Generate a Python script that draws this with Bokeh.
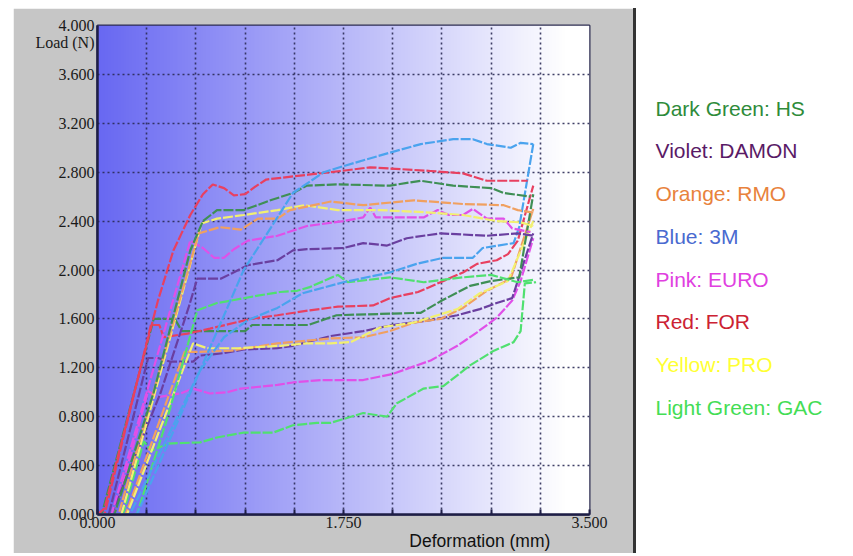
import numpy as np
from bokeh.plotting import figure
from bokeh.models import Range1d, FixedTicker, LinearAxis, Spacer, ColumnDataSource
from bokeh.layouts import row, column
from bokeh.core.properties import value
from bokeh.embed import file_html
from bokeh.resources import INLINE

# ---------------- data (deformation mm, load N) ----------------
hs1_x = [0, 0.12, 0.4, 0.66, 0.75, 0.85, 1.04, 1.23, 1.39, 1.49, 1.71, 2.08, 2.3, 2.53, 2.8, 2.89, 3.08]
hs1_y = [0, 0, 1.0, 2.16, 2.4, 2.49, 2.49, 2.57, 2.63, 2.69, 2.7, 2.69, 2.73, 2.69, 2.67, 2.63, 2.6]
hs2_x = [0, 0.03, 0.4, 0.55, 0.6, 1.05, 1.1, 1.5, 1.7, 2.3, 2.45, 2.65, 2.8, 3.0, 3.1]
hs2_y = [0, 0, 1.6, 1.6, 1.5, 1.5, 1.55, 1.55, 1.63, 1.65, 1.75, 1.87, 1.91, 1.94, 2.62]

damon1_x = [0, 0.1, 0.45, 0.65, 0.71, 0.88, 0.95, 1.07, 1.28, 1.39, 1.49, 1.75, 1.89, 2.06, 2.2, 2.44, 2.77, 2.99, 3.1]
damon1_y = [0, 0, 1.0, 1.7, 1.93, 1.93, 1.97, 2.04, 2.08, 2.16, 2.17, 2.18, 2.22, 2.2, 2.26, 2.3, 2.28, 2.3, 2.28]
damon2_x = [0, 0.08, 0.36, 0.43, 0.52, 0.68, 0.73, 0.9, 1.04, 1.28, 1.39, 1.66, 1.89, 2.1, 2.37, 2.56, 2.72, 2.84, 2.95, 3.1]
damon2_y = [0, 0, 1.28, 1.28, 1.25, 1.25, 1.3, 1.32, 1.35, 1.36, 1.38, 1.46, 1.5, 1.55, 1.59, 1.63, 1.68, 1.73, 1.77, 2.3]

rmo1_x = [0, 0.15, 0.72, 0.87, 1.02, 1.14, 1.28, 1.37, 1.66, 1.89, 2.25, 2.6, 2.89, 2.99, 3.1]
rmo1_y = [0, 0, 2.3, 2.35, 2.33, 2.42, 2.42, 2.49, 2.56, 2.53, 2.57, 2.54, 2.53, 2.49, 2.47]
rmo2_x = [0, 0.2, 0.62, 0.7, 0.95, 1.28, 1.66, 1.89, 2.08, 2.25, 2.44, 2.6, 2.77, 2.94, 3.1]
rmo2_y = [0, 0, 1.33, 1.33, 1.34, 1.4, 1.44, 1.45, 1.5, 1.57, 1.6, 1.69, 1.83, 1.93, 2.5]

m3_1_x = [0, 0.28, 0.7, 1.04, 1.28, 1.39, 1.61, 1.75, 2.08, 2.3, 2.53, 2.67, 2.77, 2.94, 3.01, 3.1]
m3_1_y = [0, 0, 1.1, 2.0, 2.43, 2.63, 2.8, 2.85, 2.96, 3.03, 3.07, 3.07, 3.03, 3.0, 3.04, 3.03]
m3_2_x = [0, 0.23, 0.73, 0.9, 1.07, 1.28, 1.46, 1.75, 2.08, 2.27, 2.46, 2.67, 2.74, 2.96, 3.0, 3.1]
m3_2_y = [0, 0, 1.18, 1.45, 1.59, 1.69, 1.81, 1.9, 1.98, 2.05, 2.1, 2.1, 2.18, 2.22, 2.35, 3.03]

euro1_x = [0, 0.1, 0.66, 0.75, 0.83, 0.9, 0.97, 1.07, 1.28, 1.49, 1.75, 1.89, 1.94, 1.98, 2.32, 2.42, 2.5, 2.6, 2.67, 2.77, 2.89, 2.95, 3.08]
euro1_y = [0, 0, 2.24, 2.18, 2.1, 2.1, 2.17, 2.24, 2.28, 2.36, 2.4, 2.43, 2.51, 2.43, 2.43, 2.49, 2.45, 2.45, 2.5, 2.42, 2.42, 2.34, 2.31]
euro2_x = [0, 0.12, 0.36, 0.43, 0.59, 0.68, 0.8, 0.92, 1.02, 1.28, 1.39, 1.59, 1.89, 2.1, 2.37, 2.56, 2.7, 2.84, 2.95, 3.01, 3.1]
euro2_y = [0, 0, 1.01, 0.96, 0.99, 1.03, 0.99, 1.0, 1.03, 1.06, 1.08, 1.1, 1.1, 1.15, 1.26, 1.38, 1.49, 1.61, 1.75, 1.91, 2.26]

for1_x = [0, 0.05, 0.43, 0.54, 0.66, 0.75, 0.82, 0.9, 0.97, 1.05, 1.12, 1.2, 1.5, 1.66, 1.94, 2.37, 2.6, 2.77, 3.06]
for1_y = [0, 0.05, 1.75, 2.16, 2.45, 2.62, 2.7, 2.67, 2.61, 2.62, 2.68, 2.74, 2.78, 2.8, 2.84, 2.81, 2.79, 2.73, 2.73]
for2_x = [0, 0.05, 0.38, 0.44, 0.47, 0.64, 0.8, 1.09, 1.28, 1.51, 1.71, 1.96, 2.08, 2.28, 2.44, 2.6, 2.7, 2.84, 2.92, 2.99, 3.1]
for2_y = [0, 0, 1.55, 1.55, 1.45, 1.48, 1.52, 1.6, 1.63, 1.67, 1.7, 1.71, 1.77, 1.82, 1.9, 1.98, 2.05, 2.08, 2.13, 2.24, 2.69]

pro1_x = [0, 0.17, 0.74, 0.85, 1.04, 1.28, 1.47, 1.71, 2.01, 2.37, 2.6, 2.84, 3.01, 3.1]
pro1_y = [0, 0, 2.38, 2.42, 2.45, 2.49, 2.53, 2.49, 2.49, 2.47, 2.45, 2.4, 2.39, 2.36]
pro2_x = [0, 0.21, 0.68, 0.78, 1.0, 1.3, 1.49, 1.66, 1.8, 2.01, 2.25, 2.56, 2.72, 2.92, 3.1]
pro2_y = [0, 0, 1.4, 1.36, 1.36, 1.38, 1.4, 1.4, 1.41, 1.53, 1.57, 1.68, 1.81, 1.91, 2.4]

gac1_x = [0, 0.28, 0.5, 0.71, 0.85, 0.95, 1.14, 1.3, 1.42, 1.51, 1.71, 1.78, 2.08, 2.32, 2.6, 2.8, 2.99, 3.1]
gac1_y = [0, 0, 0.8, 1.67, 1.73, 1.75, 1.79, 1.82, 1.83, 1.86, 1.96, 1.9, 1.94, 1.9, 1.94, 1.96, 1.9, 1.92]
gac2_x = [0, 0.18, 0.33, 0.38, 0.5, 0.73, 0.85, 1.04, 1.25, 1.39, 1.56, 1.66, 1.89, 2.06, 2.13, 2.32, 2.46, 2.65, 2.82, 2.96, 3.01, 3.04, 3.12]
gac2_y = [0, 0, 0.6, 0.52, 0.58, 0.59, 0.63, 0.67, 0.67, 0.73, 0.75, 0.75, 0.83, 0.8, 0.91, 1.03, 1.05, 1.22, 1.34, 1.41, 1.5, 1.89, 1.9]

legend_labels = ["Dark Green: HS", "Violet: DAMON", "Orange: RMO", "Blue: 3M",
                 "Pink: EURO", "Red: FOR", "Yellow: PRO", "Light Green: GAC"]
legend_colors = ["#2e8b3a", "#5a1a66", "#e8823c", "#4a6ad0",
                 "#e040e0", "#cc2233", "#ffff33", "#44dd55"]

x_ticks = [0, 0.35, 0.7, 1.05, 1.4, 1.75, 2.1, 2.45, 2.8, 3.15, 3.5]
x_tick_labels = {0: "0.000", 1.75: "1.750", 3.5: "3.500"}
y_ticks = [0, 0.4, 0.8, 1.2, 1.6, 2.0, 2.4, 2.8, 3.2, 3.6, 4.0]
y_tick_labels = ["0.000", "0.400", "0.800", "1.200", "1.600", "2.000",
                 "2.400", "2.800", "3.200", "3.600", "4.000"]
x_title = "Deformation (mm)"
y_title = "Load (N)"

# ---------------- chart figure ----------------
GRAY = "#c6c6c6"
PW, PH = 620, 545
p = figure(width=PW, height=PH, x_range=Range1d(0, 3.5), y_range=Range1d(0, 4.0),
           output_backend="svg", toolbar_location=None,
           min_border_left=84, min_border_right=44, min_border_top=17, min_border_bottom=39)
p.border_fill_color = GRAY
p.background_fill_color = "white"
p.outline_line_color = "#2c2c50"
p.outline_line_width = 2

# background gradient (blue -> white, left to right)
N = 300
img = np.empty((1, N), dtype=np.uint32)
view = img.view(dtype=np.uint8).reshape((1, N, 4))
t = np.clip(np.linspace(0, 1, N) / 0.95, 0, 1)
view[0, :, 0] = (104 + (255 - 104) * t).astype(np.uint8)
view[0, :, 1] = (104 + (255 - 104) * t).astype(np.uint8)
view[0, :, 2] = (242 + (255 - 242) * t).astype(np.uint8)
view[0, :, 3] = 255
p.image_rgba(image=[img], x=0, y=0, dw=3.5, dh=4.0, level="image")

# grids
p.xgrid.ticker = FixedTicker(ticks=x_ticks)
p.ygrid.ticker = FixedTicker(ticks=y_ticks)
for g in (p.xgrid, p.ygrid):
    g.grid_line_color = "#2a2a55"
    g.grid_line_dash = "2 3"
    g.grid_line_width = 1.6
    g.grid_line_alpha = 0.9

# axes
TICK_FONT = "Liberation Sans Narrow"
p.xaxis.ticker = FixedTicker(ticks=x_ticks)
p.xaxis.major_label_overrides = {t_: x_tick_labels.get(t_, "") for t_ in x_ticks}
# y axis: numeric ticks plus the "Load (N)" title as an extra label near the top
y_title_pos = 3.86
p.yaxis.ticker = FixedTicker(ticks=y_ticks + [y_title_pos])
y_over = dict(zip(y_ticks, y_tick_labels))
y_over[y_title_pos] = y_title
p.yaxis.major_label_overrides = y_over
for ax in (p.xaxis, p.yaxis):
    ax.axis_line_color = "#1e1e46"
    ax.axis_line_width = 2.5
    ax.major_tick_line_color = "#1e1e46"
    ax.major_tick_line_width = 2
    ax.major_tick_in = 5
    ax.major_tick_out = 0
    ax.minor_tick_line_color = None
    ax.major_label_text_font = TICK_FONT
    ax.major_label_text_font_size = "16px"
    ax.major_label_text_color = "#1a1a1a"
p.yaxis.major_tick_in = 0
p.xaxis.major_label_standoff = 2
p.yaxis.major_label_standoff = 3

# second bottom axis carrying the x title, right of centre as in the original
x_title_pos = 2.72
xt_axis = LinearAxis(ticker=FixedTicker(ticks=[x_title_pos]),
                     major_label_overrides={x_title_pos: x_title},
                     axis_line_color=None, major_tick_line_color=None, minor_tick_line_color=None,
                     major_tick_in=0, major_tick_out=0, major_label_standoff=0,
                     major_label_text_font="Liberation Sans", major_label_text_font_size="17.5px",
                     major_label_text_color="#111111")
p.add_layout(xt_axis, "below")

# curves
series = [
    (gac2_x, gac2_y, "#50e070"),
    (euro2_x, euro2_y, "#e050e8"),
    (damon2_x, damon2_y, "#6a3fa0"),
    (rmo2_x, rmo2_y, "#f0a060"),
    (pro2_x, pro2_y, "#f2f070"),
    (hs2_x, hs2_y, "#3f8f55"),
    (for2_x, for2_y, "#e84060"),
    (gac1_x, gac1_y, "#50e070"),
    (m3_2_x, m3_2_y, "#4aa3ee"),
    (damon1_x, damon1_y, "#6a3fa0"),
    (euro1_x, euro1_y, "#e050e8"),
    (pro1_x, pro1_y, "#f2f070"),
    (rmo1_x, rmo1_y, "#f0a060"),
    (hs1_x, hs1_y, "#3f8f55"),
    (for1_x, for1_y, "#e84060"),
    (m3_1_x, m3_1_y, "#4aa3ee"),
]
for xs, ys, c in series:
    p.line(xs, ys, line_color=c, line_width=2.2, line_dash="10 2")

# ---------------- legend figure ----------------
# its frame is aligned with the chart frame by the row layout, so the y range is
# expressed in page pixels (frame top ~26.5, bottom ~515)
LW, LH = 217, PH
lg = figure(width=LW, height=LH, x_range=Range1d(0, LW), y_range=Range1d(515, 26.5),
            output_backend="svg", toolbar_location=None,
            min_border=0, min_border_left=0, min_border_right=0, min_border_top=0, min_border_bottom=0)
lg.axis.visible = False
lg.grid.visible = False
lg.outline_line_color = None
lg.background_fill_color = "white"
lg.border_fill_color = "white"
n = len(legend_labels)
src = ColumnDataSource(dict(x=[19] * n, y=[109 + 42.7 * i for i in range(n)],
                            text=legend_labels, color=legend_colors))
lg.text(x="x", y="y", text="text", text_color="color", source=src,
        text_font=value("Liberation Sans"), text_font_size="21px",
        text_align="left", text_baseline="middle")

left_pad = Spacer(width=13, height=PH)
sep = Spacer(width=3, height=PH, styles={"background-color": "#333333"})
layout = column(Spacer(width=10, height=8), row(left_pad, p, sep, lg))

open("out.html", "w").write(file_html(layout, INLINE))
